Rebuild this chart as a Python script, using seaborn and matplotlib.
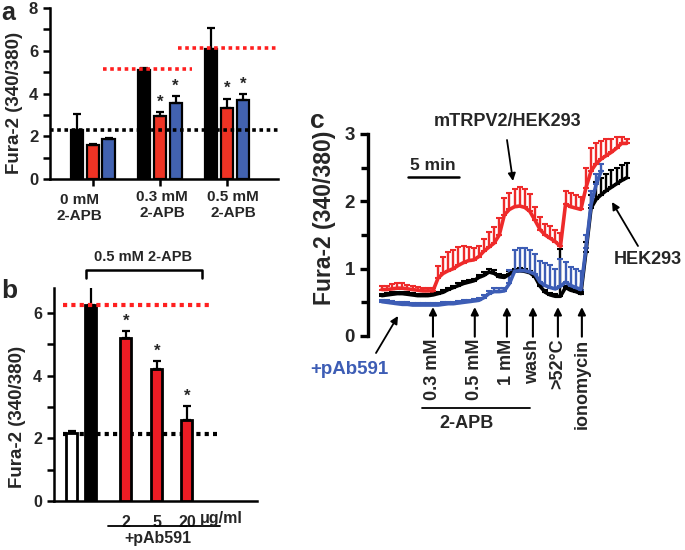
import numpy as np
import pandas as pd
import matplotlib
matplotlib.use("Agg")
import matplotlib.pyplot as plt
import seaborn as sns

# ---------------- data: panel a ----------------
a_groups = ["0 mM", "0.3 mM", "0.5 mM"]
a_group_labels = ["0 mM\n2-APB", "0.3 mM\n2-APB", "0.5 mM\n2-APB"]
a_series = ["none", "pAb-1", "pAb-2"]
a_black = [2.29, 5.09, 6.07]
a_black_err = [0.75, 0.10, 0.99]
a_red = [1.57, 2.94, 3.30]
a_red_err = [0.07, 0.19, 0.46]
a_blue = [1.88, 3.55, 3.68]
a_blue_err = [0.06, 0.33, 0.29]
a_star = [[False, False, False], [False, True, True], [False, True, True]]
a_base_line = 2.29
a_peak_lines = [5.14, 6.12]

# ---------------- data: panel b ----------------
b_pos = [0.0, 0.61, 1.74, 2.74, 3.71]
b_vals = [2.18, 6.25, 5.19, 4.23, 2.60]
b_err = [0.04, 0.61, 0.23, 0.23, 0.44]
b_kind = ["control", "2-APB", "pAb591", "pAb591", "pAb591"]
b_star = [False, False, True, True, True]
b_dose_labels = ["2", "5", "20"]
b_peak_line = 6.26
b_base_line = 2.15

# ---------------- data: panel c (time in min) ----------------
c_time = [0.0, 0.5, 1.0, 1.5, 2.0, 2.5, 3.0, 3.5, 4.0, 4.5, 5.0,
          5.5, 6.0, 6.5, 7.0, 7.5, 8.0, 8.5, 9.0, 9.5, 10.0, 10.5, 11.0, 11.5,
          12.0, 12.5, 13.0, 13.5, 14.0, 14.5, 15.0, 15.5, 16.0, 16.5, 17.0, 17.5,
          18.0, 18.5, 19.0, 19.5,
          20.0, 20.5, 21.0, 21.5, 22.0, 22.5, 23.0, 23.5, 24.0]
c_red = [0.69, 0.69, 0.70, 0.71, 0.71, 0.70, 0.69, 0.68, 0.67, 0.67, 0.67,
         0.86, 0.93, 0.97, 1.00, 1.05, 1.09, 1.12, 1.13, 1.18, 1.26, 1.32, 1.38, 1.50,
         1.80, 1.88, 1.92, 1.93, 1.91, 1.85, 1.72, 1.58, 1.50, 1.45, 1.40, 1.33,
         1.96, 1.92, 1.90, 1.88,
         2.20, 2.45, 2.56, 2.63, 2.68, 2.73, 2.79, 2.86, 2.86]
c_red_err = [0.06, 0.06, 0.07, 0.07, 0.07, 0.06, 0.06, 0.05, 0.05, 0.05, 0.05,
             0.18, 0.25, 0.28, 0.28, 0.27, 0.24, 0.20, 0.17, 0.15, 0.18, 0.22, 0.24, 0.25,
             0.25, 0.25, 0.26, 0.28, 0.28, 0.26, 0.20, 0.18, 0.17, 0.18, 0.18, 0.20,
             0.20, 0.20, 0.19, 0.18,
             0.30, 0.34, 0.30, 0.27, 0.24, 0.20, 0.16, 0.10, 0.07]
c_black = [0.60, 0.61, 0.62, 0.63, 0.63, 0.62, 0.61, 0.60, 0.60, 0.60, 0.61,
           0.63, 0.65, 0.69, 0.72, 0.75, 0.78, 0.80, 0.82, 0.87, 0.90, 0.95, 0.93, 0.88,
           0.87, 0.92, 0.96, 0.97, 0.96, 0.94, 0.88, 0.74, 0.65, 0.61, 0.59, 0.59,
           0.72, 0.68, 0.66, 0.63,
           1.25, 1.90, 2.03, 2.10, 2.16, 2.21, 2.26, 2.31, 2.35]
c_black_err = [0.03, 0.03, 0.03, 0.03, 0.03, 0.03, 0.03, 0.03, 0.03, 0.03, 0.03,
               0.03, 0.03, 0.03, 0.03, 0.03, 0.03, 0.03, 0.03, 0.04, 0.05, 0.05, 0.05, 0.04,
               0.04, 0.04, 0.04, 0.04, 0.03, 0.03, 0.03, 0.03, 0.03, 0.03, 0.03, 0.70,
               0.03, 0.03, 0.03, 0.03,
               0.15, 0.20, 0.25, 0.25, 0.25, 0.25, 0.24, 0.23, 0.22]
c_blue = [0.51, 0.50, 0.49, 0.48, 0.47, 0.47, 0.46, 0.46, 0.46, 0.46, 0.46,
          0.46, 0.47, 0.48, 0.48, 0.49, 0.50, 0.51, 0.52, 0.53, 0.57, 0.63, 0.66, 0.66,
          0.67, 0.78, 0.96, 0.97, 0.97, 0.95, 0.92, 0.80, 0.75, 0.72, 0.70, 0.74,
          0.80, 0.75, 0.72, 0.69,
          1.30, 1.95, 2.25, 2.45]
c_blue_err = [0.03, 0.03, 0.03, 0.03, 0.03, 0.03, 0.03, 0.03, 0.03, 0.03, 0.03,
              0.03, 0.03, 0.03, 0.03, 0.03, 0.03, 0.03, 0.03, 0.03, 0.04, 0.04, 0.05, 0.05,
              0.05, 0.20, 0.32, 0.33, 0.33, 0.32, 0.30, 0.32, 0.33, 0.33, 0.30, 0.40,
              0.30, 0.28, 0.28, 0.28,
              0.20, 0.20, 0.15, 0.10]
c_events = ["0.3 mM", "0.5 mM", "1 mM", "wash", ">52°C", "ionomycin"]
c_event_t = [5.0, 9.1, 12.25, 14.8, 17.25, 19.6]

# ---------------- style ----------------
RED = "#ee3324"
RED_B = "#ec1c24"
BLUE = "#4262b0"
RED_C = "#ee2a2a"
BLUE_C = "#3d5db5"

sns.set_theme(style="ticks")
plt.rcParams["font.family"] = ["Liberation Sans", "DejaVu Sans"]
plt.rcParams["font.weight"] = "bold"
plt.rcParams["axes.labelweight"] = "bold"

W, H = 685, 550
fig = plt.figure(figsize=(W / 100, H / 100), dpi=100)


def fx(X):
    return X / W


def fy(Y):
    return 1 - Y / H


def rect(l, t, r, b):
    return [l / W, 1 - b / H, (r - l) / W, (b - t) / H]


def style_axis(ax, lw=1.8):
    for s in ["top", "right"]:
        ax.spines[s].set_visible(False)
    for s in ["left", "bottom"]:
        ax.spines[s].set_linewidth(lw)
        ax.spines[s].set_color("black")
    ax.tick_params(axis="both", which="both", direction="out", width=lw,
                   color="black")
    ax.tick_params(axis="y", which="major", length=5)
    ax.tick_params(axis="y", which="minor", length=5)


DOT = (0, (1, 1))

# ================= panel a =================
axa = fig.add_axes(rect(50, 8, 278, 179))
rows = []
for s, vals in zip(a_series, [a_black, a_red, a_blue]):
    for g, v in zip(a_groups, vals):
        rows.append({"group": g, "series": s, "value": v})
dfa = pd.DataFrame(rows)
sns.barplot(data=dfa, x="group", y="value", hue="series", order=a_groups,
            hue_order=a_series, palette=["black", RED, BLUE], width=0.7,
            gap=0.22, saturation=1, edgecolor="black", linewidth=1.6,
            errorbar=None, legend=False, ax=axa, zorder=2)
errs = [a_black_err, a_red_err, a_blue_err]
vals_all = [a_black, a_red, a_blue]
bar_conts = list(axa.containers)
for i, cont in enumerate(bar_conts):
    for j, bar in enumerate(list(cont)):
        xc = bar.get_x() + bar.get_width() / 2
        v = vals_all[i][j]
        e = errs[i][j]
        axa.errorbar(xc, v, yerr=[[0], [e]], fmt="none", ecolor="black",
                     elinewidth=1.6, capsize=3.2, capthick=1.6, zorder=3)
        if a_star[j][i]:
            axa.text(xc, v + e + 0.12, "*", ha="center", va="bottom",
                     fontsize=12, fontweight="bold", zorder=4)
axa.plot([-0.64, 2.76], [a_base_line] * 2, color="black", ls=DOT, lw=2.6,
         clip_on=False, zorder=5)
axa.plot([0.15, 1.48], [a_peak_lines[0]] * 2, color="#ff2020", ls=DOT, lw=2.6,
         clip_on=False, zorder=5)
axa.plot([1.27, 2.76], [a_peak_lines[1]] * 2, color="#ff2020", ls=DOT, lw=2.6,
         clip_on=False, zorder=5)
axa.set_xlim(-0.64, 2.76)
axa.set_ylim(0, 8)
axa.set_yticks([0, 2, 4, 6, 8])
axa.set_yticks([1, 3, 5, 7], minor=True)
axa.set_xticks([0, 1, 2])
axa.set_xticklabels(["", "", ""])
axa.set_xlabel("")
axa.set_ylabel("")
style_axis(axa)
axa.tick_params(axis="x", length=5)
axa.tick_params(axis="y", labelsize=12)
for lab in axa.get_yticklabels():
    lab.set_fontweight("bold")
for X, Y, t in zip([79, 162, 233], [208, 205, 205], a_group_labels):
    fig.text(fx(X), fy(Y), t, ha="center", va="center", fontsize=11,
             fontweight="bold", linespacing=1.2)
fig.text(fx(15), fy(103), "Fura-2 (340/380)", rotation=90, ha="center",
         va="center", fontsize=13.5, fontweight="bold")
fig.text(fx(1), fy(0.5), "a", ha="left", va="top", fontsize=18,
         fontweight="bold")

# ================= panel b =================
axb = fig.add_axes(rect(54, 288, 257, 501))
dfb = pd.DataFrame({"pos": b_pos, "value": b_vals, "kind": b_kind})
sns.barplot(data=dfb, x="pos", y="value", hue="kind", native_scale=True,
            dodge=False, palette={"control": "white", "2-APB": "black",
                                  "pAb591": RED_B},
            width=0.58, saturation=1, edgecolor="black", linewidth=2.0,
            errorbar=None, legend=False, ax=axb, zorder=3)
for p in list(axb.patches):
    xc = p.get_x() + p.get_width() / 2
    k = int(np.argmin([abs(xc - q) for q in b_pos]))
    axb.errorbar(xc, b_vals[k], yerr=[[0], [b_err[k]]], fmt="none",
                 ecolor="black", elinewidth=1.6, capsize=3.2, capthick=1.6,
                 zorder=4)
    if b_star[k]:
        axb.text(xc, b_vals[k] + b_err[k] + 0.08, "*", ha="center",
                 va="bottom", fontsize=12, fontweight="bold", zorder=4)
axb.plot([-0.29, 4.55], [b_peak_line] * 2, color="#ff2020", ls=DOT, lw=3.0,
         clip_on=False, zorder=5)
axb.plot([-0.29, 4.68], [b_base_line] * 2, color="black", ls=DOT, lw=3.0,
         clip_on=False, zorder=2)
axb.set_xlim(-0.58, 5.97)
axb.set_ylim(0, 6.8)
axb.set_yticks([0, 2, 4, 6])
axb.set_yticks([1, 3, 5], minor=True)
axb.set_xticks(b_pos[2:])
axb.set_xticklabels(b_dose_labels)
axb.set_xlabel("")
axb.set_ylabel("")
style_axis(axb)
axb.tick_params(axis="x", length=0, labelsize=11.5, pad=10)
axb.tick_params(axis="y", labelsize=11.5)
for lab in axb.get_yticklabels() + axb.get_xticklabels():
    lab.set_fontweight("bold")
# "μg/ml" next to 20
fig.text(fx(200), fy(518), "\u03bcg/ml", ha="left", va="center",
         fontsize=11.5, fontweight="bold")
fig.add_artist(plt.Line2D([fx(108), fx(220)], [fy(526), fy(526)],
                          color="black", lw=1.3))
fig.text(fx(158), fy(539), "+pAb591", ha="center", va="center", fontsize=11.5,
         fontweight="bold")
# bracket
fig.add_artist(plt.Line2D([fx(86), fx(86), fx(202), fx(202)],
                          [fy(278), fy(270), fy(270), fy(278)],
                          color="black", lw=1.8))
fig.text(fx(143), fy(257), "0.5 mM 2-APB", ha="center", va="center",
         fontsize=10.5, fontweight="bold")
fig.text(fx(18), fy(417), "Fura-2 (340/380)", rotation=90, ha="center",
         va="center", fontsize=13.5, fontweight="bold")
fig.text(fx(1), fy(291), "b", ha="left", va="center", fontsize=19,
         fontweight="bold")

# ================= panel c =================
axc = fig.add_axes(rect(368, 134, 640, 336))
n_b = len(c_blue)
dfc = pd.concat([
    pd.DataFrame({"t": c_time, "v": c_black, "s": "HEK293"}),
    pd.DataFrame({"t": c_time[:n_b], "v": c_blue, "s": "+pAb591"}),
    pd.DataFrame({"t": c_time, "v": c_red, "s": "mTRPV2/HEK293"}),
])
EB = dict(fmt="none", elinewidth=1.7, capsize=2.4, capthick=1.5, zorder=2)
axc.errorbar(c_time, c_black, yerr=[[0] * len(c_black), c_black_err],
             ecolor="black", **EB)
axc.errorbar(c_time[:n_b], c_blue, yerr=[[0] * n_b, c_blue_err],
             ecolor=BLUE_C, **EB)
axc.errorbar(c_time, c_red, yerr=[[0] * len(c_red), c_red_err],
             ecolor=RED_C, **EB)
sns.lineplot(data=dfc, x="t", y="v", hue="s",
             hue_order=["HEK293", "+pAb591", "mTRPV2/HEK293"],
             palette=["black", BLUE_C, RED_C], linewidth=2.6, legend=False,
             estimator=None, sort=False, ax=axc, zorder=3)
axc.set_xlim(-1.37, 25.3)
axc.set_ylim(0, 3)
axc.set_yticks([0, 1, 2, 3])
axc.set_yticks([0.5, 1.5, 2.5], minor=True)
axc.set_xticks([])
axc.set_xlabel("")
axc.set_ylabel("")
style_axis(axc, lw=2.4)
axc.spines["bottom"].set_visible(False)
axc.tick_params(axis="y", labelsize=13.5, length=6)
for lab in axc.get_yticklabels():
    lab.set_fontweight("bold")
for t, lab in zip(c_event_t, c_events):
    axc.annotate("", xy=(t, 0.43), xytext=(t, -0.01), xycoords="data",
                 textcoords="data",
                 arrowprops=dict(arrowstyle="-|>", color="black", lw=1.5,
                                 mutation_scale=11, shrinkA=0, shrinkB=0))
    axc.text(t, -0.04, lab, rotation=90, ha="center", va="top",
             fontsize=13, fontweight="bold", clip_on=False)
fig.add_artist(plt.Line2D([fx(422), fx(530)], [fy(408), fy(408)],
                          color="black", lw=1.3))
fig.text(fx(467), fy(423), "2-APB", ha="center", va="center", fontsize=13,
         fontweight="bold")
# scale bar
fig.add_artist(plt.Line2D([fx(408), fx(459)], [fy(177), fy(177)],
                          color="black", lw=1.8))
fig.text(fx(433), fy(166), "5 min", ha="center", va="center", fontsize=12.5,
         fontweight="bold")
# labels with arrows
fig.text(fx(508), fy(121), "mTRPV2/HEK293", ha="center", va="center",
         fontsize=13, fontweight="bold")
axc.annotate("", xy=(fx(513), fy(181)), xytext=(fx(507), fy(140)),
             xycoords="figure fraction", textcoords="figure fraction",
             arrowprops=dict(arrowstyle="-|>", color="black", lw=1.3,
                             mutation_scale=11, shrinkA=0, shrinkB=0))
fig.text(fx(648), fy(260), "HEK293", ha="center", va="center", fontsize=13,
         fontweight="bold")
axc.annotate("", xy=(fx(612), fy(202)), xytext=(fx(638), fy(246)),
             xycoords="figure fraction", textcoords="figure fraction",
             arrowprops=dict(arrowstyle="-|>", color="black", lw=1.3,
                             mutation_scale=11, shrinkA=0, shrinkB=0))
fig.text(fx(349), fy(370), "+pAb591", ha="center", va="center", fontsize=13.5,
         fontweight="bold", color=BLUE_C)
axc.annotate("", xy=(fx(398), fy(316)), xytext=(fx(376), fy(353)),
             xycoords="figure fraction", textcoords="figure fraction",
             arrowprops=dict(arrowstyle="-|>", color="black", lw=1.3,
                             mutation_scale=11, shrinkA=0, shrinkB=0))
fig.text(fx(325), fy(218), "Fura-2 (340/380)", rotation=90, ha="center",
         va="center", fontsize=16.5, fontweight="bold")
fig.text(fx(310), fy(121), "c", ha="left", va="center", fontsize=19,
         fontweight="bold")

fig.savefig("out.png", dpi=100)
